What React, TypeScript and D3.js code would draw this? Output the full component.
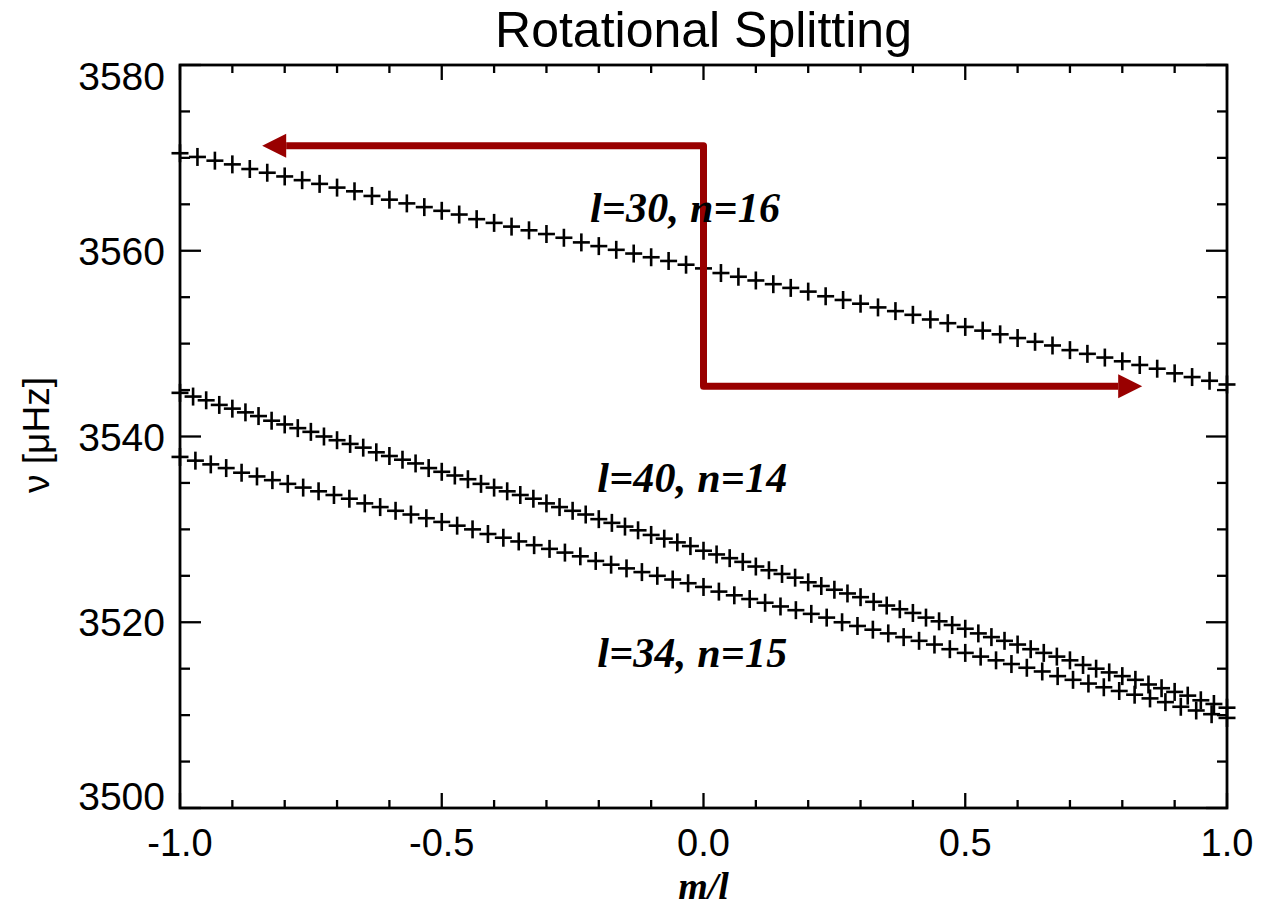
import React from "react";
import * as d3 from "d3";

const TITLE = "Rotational Splitting";
const X_LABEL = "m/l";
const Y_LABEL = "ν [μHz]";
const X_MAJOR = [-1.0, -0.5, 0.0, 0.5, 1.0];
const Y_MAJOR = [3500, 3520, 3540, 3560, 3580];

// frequencies (μHz) for m = -l .. l
const L30_N16 = [
  3570.5, 3570.1, 3569.7, 3569.3, 3568.8, 3568.4, 3568.0, 3567.6, 3567.2, 3566.8,
  3566.4, 3565.9, 3565.5, 3565.1, 3564.7, 3564.3, 3563.9, 3563.4, 3563.0, 3562.6,
  3562.2, 3561.8, 3561.4, 3560.9, 3560.5, 3560.1, 3559.7, 3559.3, 3558.9, 3558.5,
  3558.1, 3557.6, 3557.2, 3556.8, 3556.4, 3556.0, 3555.6, 3555.1, 3554.7, 3554.3,
  3553.9, 3553.5, 3553.1, 3552.6, 3552.2, 3551.8, 3551.4, 3551.0, 3550.6, 3550.2,
  3549.8, 3549.3, 3548.9, 3548.5, 3548.1, 3547.7, 3547.3, 3546.8, 3546.4, 3546.0,
  3545.6,
];
const L40_N14 = [
  3544.7, 3544.3, 3543.9, 3543.4, 3543.0, 3542.6, 3542.2, 3541.7, 3541.3, 3540.9,
  3540.5, 3540.0, 3539.6, 3539.2, 3538.8, 3538.3, 3537.9, 3537.5, 3537.1, 3536.6,
  3536.2, 3535.8, 3535.4, 3534.9, 3534.5, 3534.1, 3533.7, 3533.3, 3532.8, 3532.4,
  3532.0, 3531.6, 3531.1, 3530.7, 3530.3, 3529.9, 3529.4, 3529.0, 3528.6, 3528.2,
  3527.7, 3527.3, 3526.9, 3526.5, 3526.0, 3525.6, 3525.2, 3524.8, 3524.3, 3523.9,
  3523.5, 3523.1, 3522.7, 3522.2, 3521.8, 3521.4, 3521.0, 3520.5, 3520.1, 3519.7,
  3519.3, 3518.8, 3518.4, 3518.0, 3517.6, 3517.1, 3516.7, 3516.3, 3515.9, 3515.4,
  3515.0, 3514.6, 3514.2, 3513.8, 3513.3, 3512.9, 3512.5, 3512.1, 3511.6, 3511.2,
  3510.8,
];
const L34_N15 = [
  3537.8, 3537.4, 3537.0, 3536.6, 3536.1, 3535.7, 3535.3, 3534.9, 3534.5, 3534.1,
  3533.7, 3533.3, 3532.8, 3532.4, 3532.0, 3531.6, 3531.2, 3530.8, 3530.4, 3530.0,
  3529.5, 3529.1, 3528.7, 3528.3, 3527.9, 3527.5, 3527.1, 3526.6, 3526.2, 3525.8,
  3525.4, 3525.0, 3524.6, 3524.2, 3523.8, 3523.3, 3522.9, 3522.5, 3522.1, 3521.7,
  3521.3, 3520.9, 3520.5, 3520.0, 3519.6, 3519.2, 3518.8, 3518.4, 3518.0, 3517.6,
  3517.1, 3516.7, 3516.3, 3515.9, 3515.5, 3515.1, 3514.7, 3514.2, 3513.8, 3513.4,
  3513.0, 3512.6, 3512.2, 3511.8, 3511.4, 3510.9, 3510.5, 3510.1, 3509.7,
];
const SERIES = [
  { l: 30, values: L30_N16 },
  { l: 40, values: L40_N14 },
  { l: 34, values: L34_N15 },
];
const MODE_LABELS = ["l=30, n=16", "l=40, n=14", "l=34, n=15"];

const W = 1261;
const H = 906;
const LEFT = 180;
const RIGHT = 1227;
const TOP = 65;
const BOTTOM = 808;
const RED = "#990000";

export default function App() {
  const x = d3.scaleLinear().domain([-1, 1]).range([LEFT, RIGHT]);
  const y = d3.scaleLinear().domain([3500, 3580]).range([BOTTOM, TOP]);
  const xMinor = d3.range(-10, 11).map((d) => d / 10);
  const yMinor = d3.range(3500, 3581, 5);
  const sans = "'Liberation Sans', Arial, sans-serif";
  const serif = "'Liberation Serif', 'Times New Roman', serif";

  const isMajorX = (v: number) => X_MAJOR.some((m) => Math.abs(m - v) < 1e-6);
  const isMajorY = (v: number) => Y_MAJOR.includes(v);

  // arrow geometry in data space
  const ax0 = 0;
  const ayTop = 3571.3;
  const ayBot = 3545.4;
  const leftTip = -0.843;
  const rightTip = 0.838;
  const head = 24;

  const labelPos = [
    { x: -0.217, y: 3563.1 },
    { x: -0.203, y: 3534.0 },
    { x: -0.203, y: 3515.2 },
  ];

  return (
    <svg width={W} height={H} style={{ position: "absolute", left: 0, top: 0, background: "#fff" }}>
      <rect x={0} y={0} width={W} height={H} fill="#fff" />
      <text x={x(0)} y={47} textAnchor="middle" fontFamily={sans} fontSize={50} fill="#000">
        {TITLE}
      </text>

      {/* ticks */}
      <g stroke="#000" strokeWidth={2.3}>
        {xMinor.map((v, i) => {
          const len = isMajorX(v) ? 15 : 8;
          return (
            <g key={"xt" + i}>
              <line x1={x(v)} x2={x(v)} y1={BOTTOM} y2={BOTTOM - len} />
              <line x1={x(v)} x2={x(v)} y1={TOP} y2={TOP + len} />
            </g>
          );
        })}
        {yMinor.map((v, i) => {
          const len = isMajorY(v) ? 21 : 10;
          return (
            <g key={"yt" + i}>
              <line x1={LEFT} x2={LEFT + len} y1={y(v)} y2={y(v)} />
              <line x1={RIGHT} x2={RIGHT - len} y1={y(v)} y2={y(v)} />
            </g>
          );
        })}
      </g>

      {/* data */}
      <g stroke="#000" strokeWidth={2.6}>
        {SERIES.map((s, si) =>
          s.values.map((v, i) => {
            const cx = x((i - s.l) / s.l);
            const cy = y(v);
            return (
              <g key={si + "-" + i}>
                <line x1={cx - 8.5} x2={cx + 8.5} y1={cy} y2={cy} />
                <line x1={cx} x2={cx} y1={cy - 9} y2={cy + 9} />
              </g>
            );
          })
        )}
      </g>

      {/* frame */}
      <rect x={LEFT} y={TOP} width={RIGHT - LEFT} height={BOTTOM - TOP} fill="none" stroke="#000" strokeWidth={2.8} />

      {/* arrows */}
      <path
        d={`M${x(leftTip) + head},${y(ayTop)} L${x(ax0)},${y(ayTop)} L${x(ax0)},${y(ayBot)} L${x(rightTip) - head},${y(ayBot)}`}
        fill="none"
        stroke={RED}
        strokeWidth={7}
        strokeLinejoin="round"
      />
      <path
        d={`M${x(leftTip)},${y(ayTop)} L${x(leftTip) + head},${y(ayTop) - 12} L${x(leftTip) + head},${y(ayTop) + 12} Z`}
        fill={RED}
      />
      <path
        d={`M${x(rightTip)},${y(ayBot)} L${x(rightTip) - head},${y(ayBot) - 12} L${x(rightTip) - head},${y(ayBot) + 12} Z`}
        fill={RED}
      />

      {/* mode labels */}
      {MODE_LABELS.map((t, i) => (
        <text
          key={t}
          x={x(labelPos[i].x)}
          y={y(labelPos[i].y)}
          fontFamily={serif}
          fontStyle="italic"
          fontWeight="bold"
          fontSize={42}
          textLength={190}
          lengthAdjust="spacing"
          fill="#000"
        >
          {t}
        </text>
      ))}

      {/* tick labels */}
      {X_MAJOR.map((v) => (
        <text key={"xl" + v} x={x(v)} y={856} textAnchor="middle" fontFamily={sans} fontSize={38} fill="#000">
          {d3.format(".1f")(v).replace("−", "-")}
        </text>
      ))}
      {Y_MAJOR.map((v) => {
        const cy = Math.min(Math.max(y(v), TOP + 11), BOTTOM - 12);
        return (
          <text key={"yl" + v} x={165} y={cy} dy="0.36em" textAnchor="end" fontFamily={sans} fontSize={39} fill="#000">
            {v}
          </text>
        );
      })}

      {/* axis titles */}
      <text x={x(0)} y={899} textAnchor="middle" fontFamily={serif} fontStyle="italic" fontWeight="bold" fontSize={38} fill="#000">
        {X_LABEL}
      </text>
      <text
        transform={`translate(49,${435}) rotate(-90)`}
        textAnchor="middle"
        fontFamily={sans}
        fontSize={37}
        fill="#000"
      >
        {Y_LABEL}
      </text>
    </svg>
  );
}
